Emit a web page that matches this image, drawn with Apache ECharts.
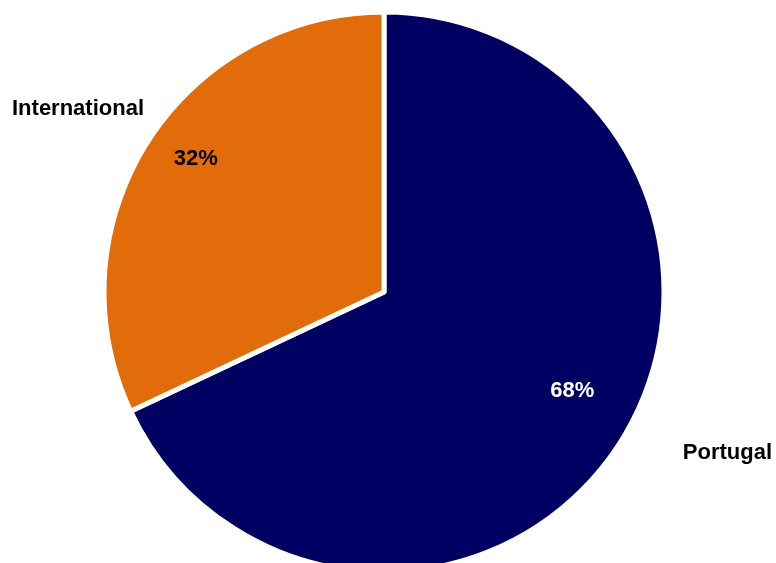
<!DOCTYPE html>
<html>
<head>
<meta charset="utf-8">
<script src="https://cdn.jsdelivr.net/npm/echarts@6/dist/echarts.min.js"></script>
<style>
  html, body { margin: 0; padding: 0; background: #ffffff; }
  #chart { width: 776px; height: 563px; }
</style>
</head>
<body>
<div id="chart"></div>
<script>
const categories = ['Portugal', 'International'];
const shares = [68, 32];
const colors = ['#000063', '#E36C0A'];

const chart = echarts.init(document.getElementById('chart'), null, { renderer: 'canvas' });

const font = { fontFamily: '"Liberation Sans", Arial, sans-serif', fontWeight: 'bold', fontSize: 22 };

const sliceData = categories.map((name, i) => ({
  name: name,
  value: shares[i],
  itemStyle: { color: colors[i] },
  label: i === 0
    ? { alignTo: 'edge', edgeDistance: 4 }
    : { alignTo: 'edge', edgeDistance: 12 },
  labelLine: { show: false, length: i === 0 ? 21 : 62, length2: 0 }
}));

const pctData = categories.map((name, i) => ({
  name: name,
  value: shares[i],
  label: { color: i === 0 ? '#ffffff' : '#000000' }
}));

chart.setOption({
  animation: false,
  backgroundColor: '#ffffff',
  series: [
    {
      type: 'pie',
      name: 'share',
      center: [384, 292],
      radius: [0, 280],
      startAngle: 90,
      clockwise: true,
      silent: true,
      avoidLabelOverlap: false,
      itemStyle: { borderColor: '#ffffff', borderWidth: 5 },
      label: Object.assign({ show: true, position: 'outside', formatter: '{b}', color: '#000000', overflow: 'none' }, font),
      labelLine: { show: false },
      data: sliceData
    },
    {
      type: 'pie',
      name: 'pct',
      center: [384, 292],
      radius: [0, 440],
      startAngle: 90,
      clockwise: true,
      silent: true,
      avoidLabelOverlap: false,
      itemStyle: { color: 'rgba(0,0,0,0)' },
      label: Object.assign({ show: true, position: 'inside', formatter: '{d}%' }, font),
      labelLine: { show: false },
      labelLayout: function (params) {
        return params.dataIndex === 0 ? { dy: -21 } : { dy: -14 };
      },
      data: pctData
    }
  ]
});
</script>
</body>
</html>
